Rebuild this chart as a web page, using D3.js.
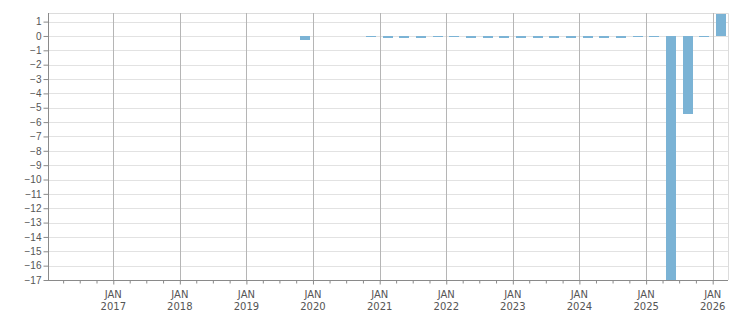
<!DOCTYPE html>
<html lang="en">
<head>
    <meta charset="UTF-8">
    <title>Quarterly change</title>
    <script src="https://cdn.jsdelivr.net/npm/d3@7/dist/d3.min.js"></script>
    <style>
        body { margin: 0; background: #fff; font-family: "DejaVu Sans", Tahoma, sans-serif; }
        .tick text { fill: #555; font-size: 10px; }
    </style>
</head>
<body>
    <div id="chart"></div>
    <script>
        // quarter start month -> value
        const quarters = ["2019-10", "2020-01", "2020-04", "2020-07", "2020-10",
            "2021-01", "2021-04", "2021-07", "2021-10",
            "2022-01", "2022-04", "2022-07", "2022-10",
            "2023-01", "2023-04", "2023-07", "2023-10",
            "2024-01", "2024-04", "2024-07", "2024-10",
            "2025-01", "2025-04", "2025-07", "2025-10",
            "2026-01"];
        const values = [-0.28, null, null, null, -0.07,
            -0.14, -0.14, -0.14, -0.07,
            -0.07, -0.14, -0.14, -0.14,
            -0.14, -0.14, -0.14, -0.14,
            -0.14, -0.14, -0.14, -0.07,
            -0.07, -17, -5.4, -0.07,
            1.53];
        const yTicks = d3.range(-17, 2);
        const yearTicks = d3.range(2017, 2027);

        const width = 751, height = 313;
        const plotL = 48, plotR = 728, plotT = 13, plotB = 280;

        const parse = d3.timeParse("%Y-%m");
        const data = quarters.map((q, i) => {
            const start = parse(q);
            const end = d3.timeMonth.offset(start, 3);
            return { start, end, value: values[i] };
        }).filter(d => d.value !== null);

        const svg = d3.select("#chart").append("svg")
            .attr("width", width)
            .attr("height", height);

        const x = d3.scaleTime()
            .domain([new Date(2016, 0, 9), new Date(2026, 2, 26)])
            .range([plotL, plotR]);
        const y = d3.scaleLinear().domain([-17, 1.6]).range([plotB, plotT]);

        // horizontal grid
        svg.append("g").selectAll("line")
            .data(yTicks)
            .join("line")
            .attr("x1", plotL).attr("x2", plotR)
            .attr("y1", d => Math.round(y(d)) + 0.5)
            .attr("y2", d => Math.round(y(d)) + 0.5)
            .attr("stroke", "#e2e2e2");

        // top and right border
        svg.append("path")
            .attr("d", `M${plotL},${plotT + 0.5}H${plotR + 0.5}V${plotB}`)
            .attr("fill", "none")
            .attr("stroke", "#dcdcdc");

        // vertical year grid
        const janDates = yearTicks.map(yr => new Date(yr, 0, 1));
        svg.append("g").selectAll("line")
            .data(janDates)
            .join("line")
            .attr("x1", d => Math.round(x(d)) + 0.5)
            .attr("x2", d => Math.round(x(d)) + 0.5)
            .attr("y1", plotT).attr("y2", plotB)
            .attr("stroke", "#b5b5b5");

        // bars
        const barW = 10;
        svg.append("g").selectAll("rect")
            .data(data)
            .join("rect")
            .attr("x", d => Math.round(x(new Date((+d.start + +d.end) / 2)) - barW / 2))
            .attr("width", barW)
            .attr("y", d => Math.round(y(Math.max(0, d.value))))
            .attr("height", d => Math.max(1, Math.round(Math.abs(y(d.value) - y(0)))))
            .attr("fill", "#7bb3d5");

        // y axis
        const yAxis = svg.append("g")
            .attr("transform", `translate(${plotL + 0.5},0)`)
            .call(d3.axisLeft(y).tickValues(yTicks).tickSize(5).tickPadding(2).tickFormat(d3.format("d")));
        yAxis.select(".domain").attr("stroke", "#8a8a8a").attr("d", `M0,${plotT}V${plotB + 0.5}`);
        yAxis.selectAll(".tick line").attr("stroke", "#8a8a8a");

        // x axis: quarterly minor ticks, labelled januaries
        const quarterTicks = d3.timeMonth.every(3).range(new Date(2016, 0, 1), new Date(2026, 3, 1))
            .filter(d => x(d) >= plotL + 2 && x(d) <= plotR);
        const xAxis = svg.append("g")
            .attr("transform", `translate(0,${plotB + 0.5})`)
            .call(d3.axisBottom(x).tickValues(quarterTicks).tickSize(3).tickFormat(""));
        xAxis.select(".domain").attr("stroke", "#8a8a8a").attr("d", `M${plotL},0H${plotR}`);
        xAxis.selectAll(".tick line").attr("stroke", "#8a8a8a")
            .attr("y2", d => d.getMonth() === 0 ? 4 : 3);

        const labels = svg.append("g").selectAll("g")
            .data(janDates)
            .join("g")
            .attr("transform", d => `translate(${x(d)},0)`);
        labels.append("text")
            .attr("y", 298)
            .attr("text-anchor", "middle")
            .attr("fill", "#555")
            .attr("font-size", 10)
            .text("JAN");
        labels.append("text")
            .attr("y", 310)
            .attr("text-anchor", "middle")
            .attr("fill", "#555")
            .attr("font-size", 10)
            .text(d => d.getFullYear());
    </script>
</body>
</html>
